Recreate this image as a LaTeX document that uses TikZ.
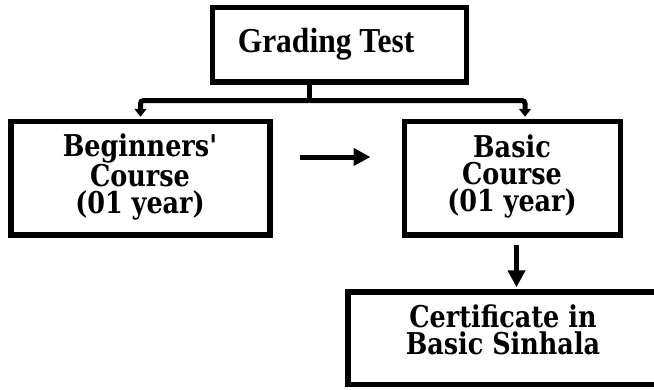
\documentclass[tikz,border=0pt]{standalone}
\usepackage{fontspec}
\usetikzlibrary{arrows.meta}
\newfontfamily\gtfont[FakeStretch=0.9]{Liberation Serif}
\newfontfamily\cbfont[FakeStretch=0.85]{DejaVu Serif}
\begin{document}
\begin{tikzpicture}[x=1pt,y=-1pt,
  box/.style={draw, line width=5.5pt, inner sep=0pt},
  conn/.style={draw, line width=5pt},
  smalltip/.style={-{Triangle[length=8pt,width=12pt]}},
  bigtip/.style={-{Triangle[length=17pt,width=17pt]}},
  gtxt/.style={inner sep=0pt, font=\gtfont\bfseries\fontsize{35}{35}\selectfont},
  btxt/.style={inner sep=0pt, align=center, font=\cbfont\bfseries\fontsize{30}{27}\selectfont}]
\useasboundingbox (0,0) rectangle (654,389);
\node[box, minimum width=254pt, minimum height=74.5pt] (gt) at (339.5,44.75) {};
\node[box, minimum width=259pt, minimum height=113.5pt] (beg) at (140.5,178.25) {};
\node[box, minimum width=216pt, minimum height=113.5pt] (bas) at (512.5,178.25) {};
\node[box, minimum width=312pt, minimum height=92.5pt] (cert) at (504,338.25) {};
\node[gtxt, anchor=base] (gtt) at (326,52) {Grading Test};
\node[btxt] (begt) at (140,176.5) {Beginners'\\Course\\(01 year)};
\node[btxt] (bast) at (512,176.5) {Basic\\Course\\(01 year)};
\node[btxt] (certt) at (503,330) {Certificate in\\Basic Sinhala};
\coordinate (split) at (309.5,100.5);
\draw[conn] (gt.south -| split) -- (split);
\draw[conn, smalltip, rounded corners=3pt] (split) -| ([yshift=2pt]beg.north);
\draw[conn, smalltip, rounded corners=3pt] (split) -| ([xshift=12.5pt,yshift=2pt]bas.north);
\coordinate (h1) at (300,157);
\coordinate (h2) at (370.5,157);
\draw[conn, bigtip] (h1) -- (h2);
\coordinate (d1) at (516.5,245);
\draw[conn, bigtip] (d1) -- ([yshift=2pt]cert.north -| d1);
\end{tikzpicture}
\end{document}
